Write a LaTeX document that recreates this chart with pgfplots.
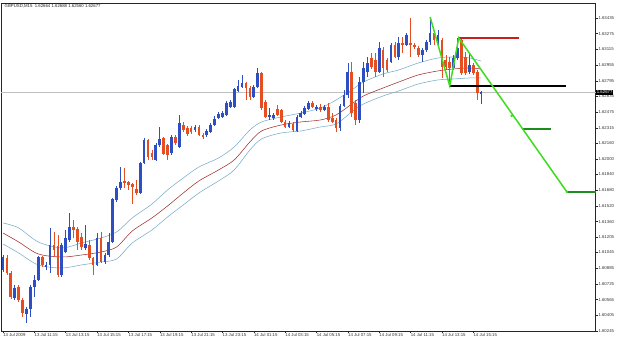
\documentclass[border=0pt]{standalone}
\usepackage{pgfplots}
\pgfplotsset{compat=1.18}
\usepackage{pgfplotstable}
\usepackage{fontspec}
\setmainfont{Liberation Sans}
\definecolor{bullc}{RGB}{46,79,196}
\definecolor{bearc}{RGB}{228,78,32}
\definecolor{bandc}{RGB}{120,172,204}
\definecolor{mac}{RGB}{160,48,48}
\definecolor{zzg}{RGB}{60,220,30}
\definecolor{dkg}{RGB}{30,140,30}
\definecolor{lvl}{RGB}{200,30,30}

\pgfplotstableread{
i o h l c
0 1.60867 1.61019 1.60846 1.60999
1 1.60989 1.61019 1.60816 1.60836
2 1.60836 1.60856 1.60571 1.60592
3 1.60581 1.60714 1.60561 1.60683
4 1.60693 1.60714 1.60541 1.60561
5 1.60561 1.60581 1.60388 1.60429
6 1.60418 1.60490 1.60327 1.60470
7 1.60470 1.60714 1.60388 1.60693
8 1.60693 1.60816 1.60592 1.60765
9 1.60765 1.61009 1.60755 1.60999
10 1.60999 1.61009 1.60897 1.60918
11 1.60897 1.60948 1.60867 1.60918
12 1.60918 1.61295 1.60836 1.61121
13 1.61121 1.61254 1.60999 1.61070
14 1.61111 1.61223 1.60795 1.60816
15 1.60816 1.61142 1.60795 1.61121
16 1.61050 1.61274 1.61040 1.61193
17 1.61172 1.61448 1.61152 1.61305
18 1.61305 1.61376 1.61193 1.61274
19 1.61284 1.61305 1.61070 1.61152
20 1.61203 1.61244 1.61070 1.61101
21 1.61091 1.61325 1.61070 1.61132
22 1.61121 1.61172 1.60969 1.60989
23 1.60989 1.60999 1.60816 1.60918
24 1.60918 1.61244 1.60907 1.61193
25 1.61193 1.61254 1.60938 1.60948
26 1.60948 1.61040 1.60928 1.61019
27 1.61019 1.61244 1.60999 1.61152
28 1.61152 1.61600 1.61142 1.61590
29 1.61580 1.61723 1.61560 1.61702
30 1.61702 1.61916 1.61682 1.61763
31 1.61774 1.61906 1.61702 1.61753
32 1.61763 1.61774 1.61682 1.61733
33 1.61743 1.61753 1.61539 1.61712
34 1.61692 1.61784 1.61631 1.61651
35 1.61651 1.61967 1.61641 1.61957
36 1.61957 1.62212 1.61947 1.62191
37 1.62191 1.62202 1.61988 1.62018
38 1.62059 1.62089 1.61988 1.62018
39 1.61988 1.62161 1.61977 1.62140
40 1.62140 1.62324 1.62120 1.62202
41 1.62212 1.62222 1.62039 1.62049
42 1.62140 1.62151 1.61988 1.62039
43 1.62059 1.62242 1.62039 1.62222
44 1.62222 1.62242 1.62140 1.62161
45 1.62120 1.62446 1.62110 1.62365
46 1.62344 1.62375 1.62273 1.62293
47 1.62314 1.62334 1.62232 1.62253
48 1.62314 1.62334 1.62253 1.62273
49 1.62293 1.62344 1.62273 1.62324
50 1.62324 1.62344 1.62232 1.62242
51 1.62242 1.62263 1.62202 1.62222
52 1.62242 1.62303 1.62222 1.62283
53 1.62273 1.62365 1.62263 1.62344
54 1.62344 1.62436 1.62334 1.62405
55 1.62416 1.62477 1.62405 1.62456
56 1.62426 1.62487 1.62416 1.62466
57 1.62446 1.62589 1.62436 1.62568
58 1.62528 1.62599 1.62517 1.62579
59 1.62528 1.62721 1.62517 1.62711
60 1.62691 1.62803 1.62681 1.62742
61 1.62731 1.62854 1.62721 1.62772
62 1.62772 1.62782 1.62599 1.62721
63 1.62721 1.62742 1.62599 1.62630
64 1.62630 1.62752 1.62619 1.62731
65 1.62731 1.62925 1.62721 1.62874
66 1.62874 1.62884 1.62497 1.62517
67 1.62579 1.62599 1.62416 1.62426
68 1.62426 1.62517 1.62395 1.62446
69 1.62416 1.62466 1.62395 1.62446
70 1.62507 1.62548 1.62436 1.62446
71 1.62497 1.62507 1.62365 1.62375
72 1.62375 1.62395 1.62314 1.62324
73 1.62324 1.62385 1.62314 1.62365
74 1.62354 1.62375 1.62273 1.62293
75 1.62283 1.62446 1.62273 1.62426
76 1.62426 1.62487 1.62416 1.62466
77 1.62456 1.62538 1.62446 1.62517
78 1.62507 1.62589 1.62497 1.62568
79 1.62568 1.62589 1.62517 1.62528
80 1.62507 1.62548 1.62487 1.62528
81 1.62528 1.62558 1.62477 1.62497
82 1.62497 1.62548 1.62487 1.62528
83 1.62528 1.62568 1.62375 1.62395
84 1.62416 1.62466 1.62365 1.62375
85 1.62395 1.62416 1.62273 1.62314
86 1.62314 1.62558 1.62283 1.62538
87 1.62538 1.62701 1.62528 1.62650
88 1.62650 1.62976 1.62619 1.62884
89 1.62884 1.62986 1.62426 1.62466
90 1.62568 1.62599 1.62344 1.62395
91 1.62395 1.62833 1.62365 1.62782
92 1.62782 1.62986 1.62670 1.62925
93 1.62884 1.63037 1.62833 1.62976
94 1.63027 1.63078 1.62915 1.62935
95 1.63007 1.63078 1.62833 1.62884
96 1.62884 1.63190 1.62874 1.63129
97 1.63108 1.63139 1.62833 1.62925
98 1.63007 1.63027 1.62884 1.62905
99 1.62986 1.63180 1.62976 1.63159
100 1.63159 1.63190 1.63027 1.63037
101 1.63037 1.63241 1.63007 1.63180
102 1.63180 1.63241 1.63078 1.63159
103 1.63159 1.63282 1.63149 1.63261
104 1.63180 1.63435 1.63037 1.63159
105 1.63159 1.63180 1.63119 1.63139
106 1.63129 1.63149 1.63037 1.63058
107 1.63058 1.63129 1.62986 1.63108
108 1.63108 1.63210 1.63088 1.63190
109 1.63190 1.63445 1.63159 1.63282
110 1.63282 1.63292 1.63159 1.63210
111 1.63190 1.63312 1.63159 1.63261
112 1.63210 1.63231 1.62823 1.62935
113 1.63007 1.63058 1.62905 1.62935
114 1.62986 1.63037 1.62742 1.62925
115 1.62925 1.63058 1.62905 1.63027
116 1.63027 1.63231 1.63007 1.63129
117 1.63210 1.63231 1.62854 1.62874
118 1.63037 1.63088 1.62854 1.62874
119 1.62884 1.63078 1.62864 1.62956
120 1.62956 1.62976 1.62854 1.62874
121 1.62884 1.62905 1.62599 1.62670
122 1.62664 1.62688 1.62560 1.62677
}\candles

\pgfplotstableread{
i u m lo
0 1.61346 1.61244 1.61132
4 1.61295 1.61152 1.61040
9 1.61152 1.61030 1.60918
15 1.61091 1.60999 1.60887
20 1.61142 1.61019 1.60918
25 1.61193 1.61050 1.60948
29 1.61254 1.61101 1.60979
33 1.61397 1.61264 1.61142
38 1.61539 1.61397 1.61274
42 1.61682 1.61519 1.61407
46 1.61804 1.61651 1.61529
50 1.61916 1.61774 1.61651
55 1.62008 1.61886 1.61774
59 1.62120 1.61988 1.61886
63 1.62293 1.62171 1.62089
66 1.62375 1.62283 1.62202
71 1.62426 1.62344 1.62263
76 1.62466 1.62375 1.62283
81 1.62517 1.62395 1.62324
85 1.62599 1.62446 1.62354
89 1.62701 1.62558 1.62477
92 1.62782 1.62640 1.62558
97 1.62864 1.62721 1.62640
101 1.62905 1.62782 1.62691
106 1.62976 1.62854 1.62762
111 1.63027 1.62895 1.62803
115 1.63037 1.62915 1.62813
119 1.63027 1.62925 1.62823
122 1.62996 1.62915 1.62823
}\bands

\begin{document}
\begin{tikzpicture}
\path[use as bounding box] (0pt,0pt) rectangle (625pt,342pt);
\begin{axis}[
  at={(1.5pt,11pt)}, anchor=south west,
  scale only axis, width=594pt, height=328pt,
  xmin=-0.383, xmax=151.2, ymin=1.60245, ymax=1.63587,
  clip=false,
  axis line style={draw=black!85, line width=0.5pt},
  scaled y ticks=false, scaled x ticks=false,
  xtick={0,8,...,120},
  xticklabels={13 Jul 2009,13 Jul 11:15,13 Jul 13:15,13 Jul 15:15,13 Jul 17:15,13 Jul 19:15,13 Jul 21:15,13 Jul 23:15,14 Jul 01:15,14 Jul 03:15,14 Jul 05:15,14 Jul 07:15,14 Jul 09:15,14 Jul 11:15,14 Jul 13:15,14 Jul 15:15},
  ytick={1.60245,1.60405,1.60565,1.60725,1.60885,1.61045,1.61205,1.61360,1.61520,1.61680,1.61840,1.62000,1.62160,1.62315,1.62475,1.62635,1.62795,1.62955,1.63115,1.63275,1.63435},
  yticklabels={1.60245,1.60405,1.60565,1.60725,1.60885,1.61045,1.61205,1.61360,1.61520,1.61680,1.61840,1.62000,1.62160,1.62315,1.62475,1.62635,1.62795,1.62955,1.63115,1.63275,1.63435},
  xtick pos=bottom, ytick pos=right, yticklabel pos=right,
  tick align=outside, major tick length=2pt,
  tick style={black!85, line width=0.4pt},
  tick label style={font=\fontsize{4.3}{4.6}\selectfont, text=black!80},
  xticklabel style={anchor=north west, inner sep=0.6pt, xshift=-0.5pt},
  yticklabel style={anchor=west, inner sep=0.8pt},
]
% current price line
\addplot[black!25, line width=0.5pt] coordinates {(-0.383,1.62677) (151.2,1.62677)};
% bands
\addplot[bandc, line width=0.55pt, smooth] table[x=i, y=u] {\bands};
\addplot[mac, line width=0.55pt, smooth] table[x=i, y=m] {\bands};
\addplot[bandc, line width=0.55pt, smooth] table[x=i, y=lo] {\bands};
% wicks
\addplot[draw=none, no markers, restrict expr to domain={\thisrow{c}-\thisrow{o}}{0:1},
  error bars/.cd, y dir=both, y explicit, error mark=none,
  error bar style={draw=bullc, line width=0.6pt}]
  table[x=i, y expr={(\thisrow{h}+\thisrow{l})/2}, y error expr={(\thisrow{h}-\thisrow{l})/2}] {\candles};
\addplot[draw=none, no markers, restrict expr to domain={\thisrow{c}-\thisrow{o}}{-1:0},
  error bars/.cd, y dir=both, y explicit, error mark=none,
  error bar style={draw=bearc, line width=0.6pt}]
  table[x=i, y expr={(\thisrow{h}+\thisrow{l})/2}, y error expr={(\thisrow{h}-\thisrow{l})/2}] {\candles};
% bodies
\addplot[draw=none, no markers, restrict expr to domain={\thisrow{c}-\thisrow{o}}{0:1},
  error bars/.cd, y dir=both, y explicit, error mark=none,
  error bar style={draw=bullc, line width=2.7pt}]
  table[x=i, y expr={(\thisrow{o}+\thisrow{c})/2}, y error expr={abs(\thisrow{c}-\thisrow{o})/2}] {\candles};
\addplot[draw=none, no markers, restrict expr to domain={\thisrow{c}-\thisrow{o}}{-1:0},
  error bars/.cd, y dir=both, y explicit, error mark=none,
  error bar style={draw=bearc, line width=2.7pt}]
  table[x=i, y expr={(\thisrow{o}+\thisrow{c})/2}, y error expr={abs(\thisrow{c}-\thisrow{o})/2}] {\candles};
% levels
\addplot[black, line width=1.6pt] coordinates {(114,1.62742) (143.6,1.62742)};
\addplot[lvl, line width=1.6pt] coordinates {(116.3,1.63231) (131.6,1.63231)};
\addplot[dkg, line width=1.6pt] coordinates {(132.4,1.62303) (139.8,1.62303)};
\addplot[dkg, line width=1.6pt] coordinates {(143.9,1.61662) (151.2,1.61662)};
% zigzag
\addplot[zzg, line width=1.5pt] coordinates {(109,1.63445) (114,1.62742) (116.3,1.63231) (143.9,1.61662)};
\addplot[zzg, only marks, mark=*, mark size=1.1pt] coordinates {(129.8,1.62436) (143.9,1.61662)};
% title and price box
\node[anchor=north west, inner sep=0pt, font=\fontsize{4.3}{4.6}\selectfont, text=black!85] at (rel axis cs:0,1) [xshift=3pt, yshift=-1.5pt] {GBPUSD,M15\ \ 1.62664 1.62688 1.62560 1.62677};
\node[anchor=west, fill=black, text=white, inner sep=0.7pt, font=\fontsize{4.3}{4.6}\selectfont] at (axis cs:151.2,1.62677) [xshift=0.5pt] {1.62677};
\end{axis}
\end{tikzpicture}
\end{document}
